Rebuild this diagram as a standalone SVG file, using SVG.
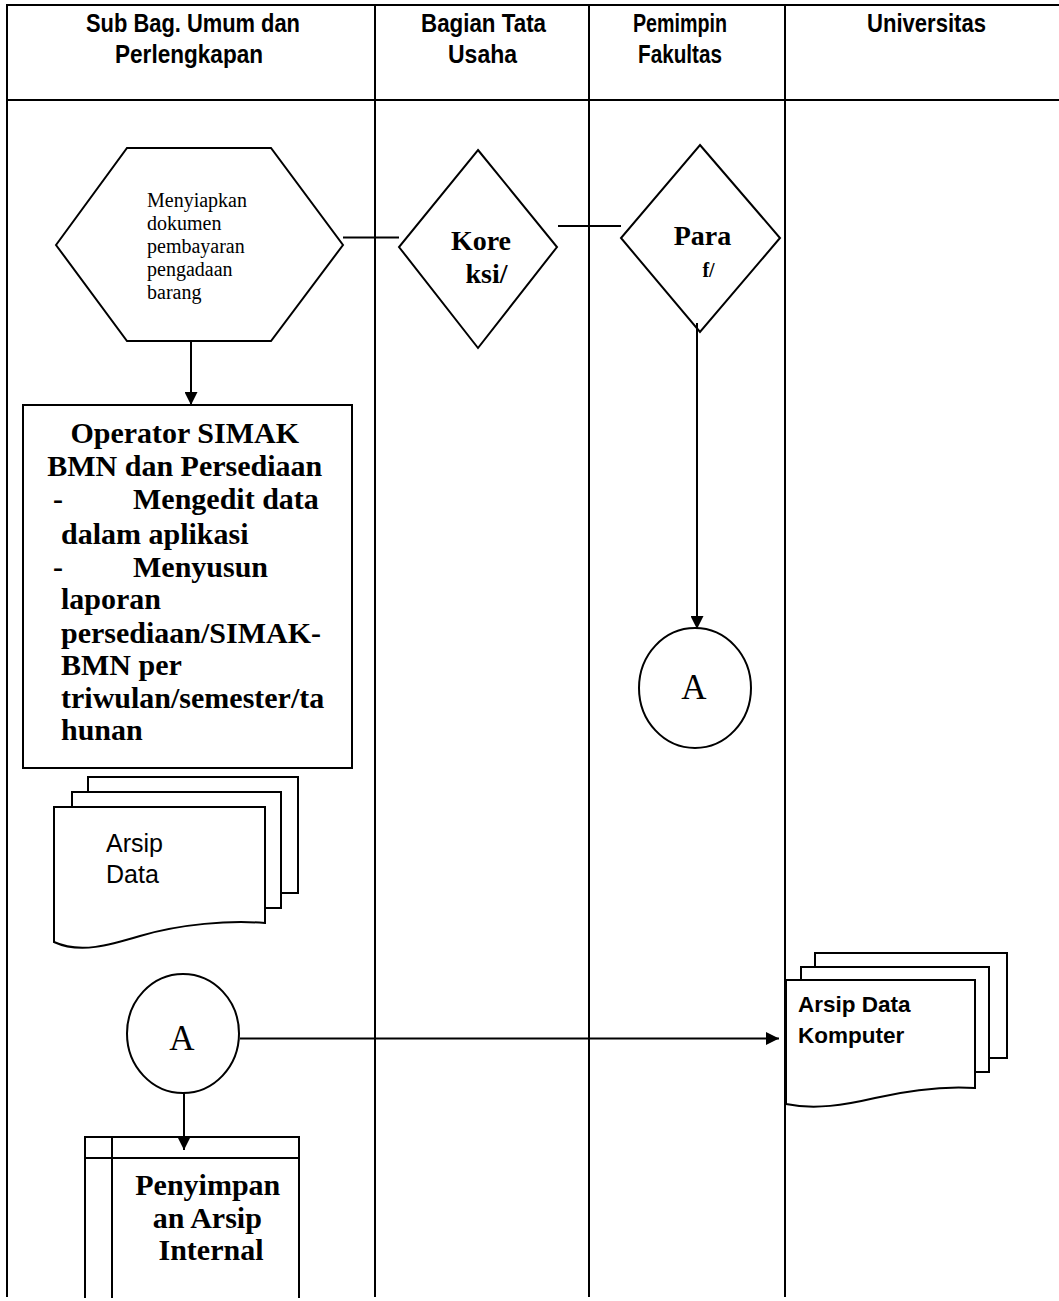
<svg xmlns="http://www.w3.org/2000/svg" width="1059" height="1301" viewBox="0 0 1059 1301">
<defs>
<marker id="arrow" viewBox="0 0 12 12" refX="12" refY="6" markerWidth="13" markerHeight="13" markerUnits="userSpaceOnUse" orient="auto">
<path d="M0,0 L12,6 L0,12 z" fill="#000"/>
</marker>
</defs>
<style>
.hdr{font-family:"Liberation Sans",Arial,sans-serif;font-weight:bold;font-size:25.5px;fill:#000;text-anchor:middle}
.tb{font-family:"Liberation Serif","Times New Roman",serif;font-weight:bold;fill:#000}
.tr{font-family:"Liberation Serif","Times New Roman",serif;fill:#000}
.sans{font-family:"Liberation Sans",Arial,sans-serif;fill:#000}
.shape{fill:#fff;stroke:#000;stroke-width:2}
.grid{stroke:#000;stroke-width:2;fill:none}
.conn{stroke:#000;stroke-width:2;fill:none}
</style>
<rect x="0" y="0" width="1059" height="1301" fill="#fff"/>
<g id="table">
<line class="grid" x1="7" y1="5" x2="1059" y2="5" stroke-width="3"/>
<line class="grid" x1="7" y1="100" x2="1059" y2="100" stroke-width="3"/>
<line class="grid" x1="7" y1="4" x2="7" y2="1297"/>
<line class="grid" x1="375" y1="5" x2="375" y2="1297"/>
<line class="grid" x1="589" y1="5" x2="589" y2="1297"/>
<line class="grid" x1="785" y1="5" x2="785" y2="1297"/>
<text class="hdr" x="193" y="32" textLength="214" lengthAdjust="spacingAndGlyphs">Sub Bag. Umum dan</text>
<text class="hdr" x="189" y="63" textLength="148" lengthAdjust="spacingAndGlyphs">Perlengkapan</text>
<text class="hdr" x="483.5" y="32" textLength="125" lengthAdjust="spacingAndGlyphs">Bagian Tata</text>
<text class="hdr" x="482.5" y="63" textLength="69" lengthAdjust="spacingAndGlyphs">Usaha</text>
<text class="hdr" x="680" y="32" textLength="94" lengthAdjust="spacingAndGlyphs">Pemimpin</text>
<text class="hdr" x="680" y="63" textLength="84" lengthAdjust="spacingAndGlyphs">Fakultas</text>
<text class="hdr" x="926.5" y="32" textLength="119" lengthAdjust="spacingAndGlyphs">Universitas</text>
</g>
<g id="node-hexagon">
<polygon class="shape" stroke-width="1.5" points="56,245 127,148 271,148 343,245 271,341 127,341"/>
<text class="tr" font-size="20">
<tspan x="147" y="207">Menyiapkan</tspan>
<tspan x="147" y="230">dokumen</tspan>
<tspan x="147" y="253">pembayaran</tspan>
<tspan x="147" y="276">pengadaan</tspan>
<tspan x="147" y="299">barang</tspan>
</text>
</g>
<g id="node-koreksi">
<polygon class="shape" points="478,150 557,247 478,348 399,247"/>
<text class="tb" font-size="28" text-anchor="middle"><tspan x="481" y="250">Kore</tspan><tspan x="486.5" y="283">ksi/</tspan></text>
</g>
<g id="node-paraf">
<polygon class="shape" points="700,145 780,238 700,332 621,238"/>
<text class="tb" font-size="28" text-anchor="middle" x="702.5" y="245">Para</text>
<text class="tb" font-size="20" text-anchor="middle" x="708.5" y="277">f/</text>
</g>
<g id="node-connector-a-right">
<ellipse class="shape" stroke-width="1.5" cx="695" cy="688" rx="56" ry="60"/>
<text class="tr" font-size="35" text-anchor="middle" x="694" y="699">A</text>
</g>
<g id="node-operator">
<rect class="shape" x="23" y="405" width="329" height="363"/>
<text class="tb" font-size="30">
<tspan x="188.5" y="443" text-anchor="middle">Operator SIMAK</tspan>
<tspan x="188.5" y="476" text-anchor="middle">BMN dan Persediaan</tspan>
<tspan x="53" y="509">-</tspan><tspan x="133" y="509">Mengedit data</tspan>
<tspan x="61" y="544">dalam aplikasi</tspan>
<tspan x="53" y="577">-</tspan><tspan x="133" y="577">Menyusun</tspan>
<tspan x="61" y="609">laporan</tspan>
<tspan x="61" y="643">persediaan/SIMAK-</tspan>
<tspan x="61" y="675">BMN per</tspan>
<tspan x="61" y="708">triwulan/semester/ta</tspan>
<tspan x="61" y="740">hunan</tspan>
</text>
</g>
<g id="node-arsip-data">
<rect class="shape" stroke-width="1.5" x="88" y="777" width="210" height="116"/>
<rect class="shape" stroke-width="1.5" x="72" y="792" width="209" height="116"/>
<path class="shape" stroke-width="1.5" d="M54,807 H265 V923 C230,920 180,924 140,936 C110,945 80,954 54,942 Z"/>
<text class="sans" font-size="25"><tspan x="106" y="852">Arsip</tspan><tspan x="106" y="883">Data</tspan></text>
</g>
<g id="node-connector-a-left">
<ellipse class="shape" stroke-width="1.5" cx="183" cy="1033.5" rx="56" ry="59.5"/>
<text class="tr" font-size="35" text-anchor="middle" x="182" y="1050">A</text>
</g>
<g id="node-arsip-komputer">
<rect class="shape" x="815" y="953" width="192" height="105"/>
<rect class="shape" x="801" y="967" width="188" height="105"/>
<path class="shape" d="M786,980 H975 V1088 C945,1086 910,1090 875,1098 C845,1105 815,1110 786,1104 Z"/>
<text class="sans" font-weight="bold" font-size="22.5"><tspan x="798" y="1012">Arsip Data</tspan><tspan x="798" y="1043">Komputer</tspan></text>
</g>
<g id="node-penyimpanan">
<path class="shape" stroke-width="3" d="M85,1298 V1137 H299 V1298"/>
<line class="grid" stroke-width="3" x1="112" y1="1137" x2="112" y2="1298"/>
<line class="grid" stroke-width="3" x1="85" y1="1158" x2="299" y2="1158"/>
<text class="tb" font-size="30" text-anchor="middle">
<tspan x="211.5" y="1195">Penyimpan</tspan>
<tspan x="211" y="1228">an Arsip</tspan>
<tspan x="211" y="1260">Internal</tspan>
</text>
</g>
<g id="connectors">
<line class="conn" x1="343" y1="237.5" x2="399" y2="237.5"/>
<line class="conn" x1="558" y1="226" x2="621" y2="226"/>
<line class="conn" x1="697" y1="323" x2="697" y2="629" marker-end="url(#arrow)"/>
<line class="conn" x1="191" y1="341" x2="191" y2="405" stroke-width="3" marker-end="url(#arrow)"/>
<line class="conn" x1="240" y1="1038.5" x2="779" y2="1038.5" stroke-width="2.5" marker-end="url(#arrow)"/>
<line class="conn" x1="184" y1="1093" x2="184" y2="1150" marker-end="url(#arrow)"/>
</g>
</svg>
